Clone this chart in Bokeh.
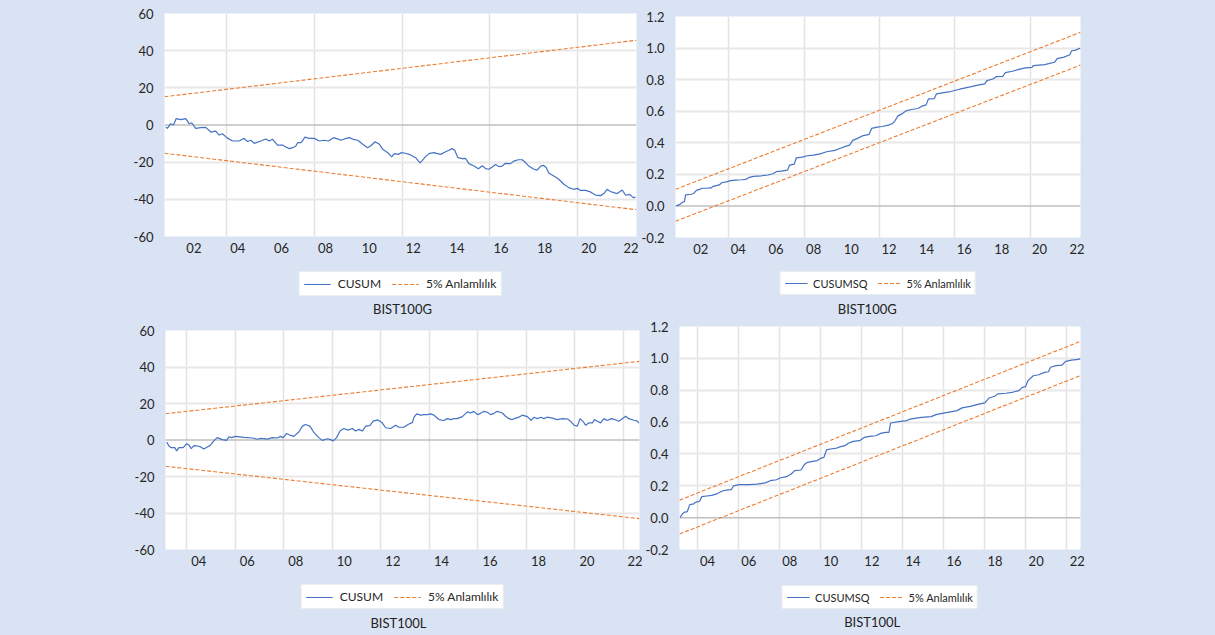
from bokeh.plotting import figure
from bokeh.layouts import column, row
from bokeh.models import (FixedTicker, Span, Legend, LegendItem, Label, Range1d,
                          CustomJSTickFormatter)
from bokeh.embed import file_html
from bokeh.resources import INLINE

# ---------------- data ----------------
# BIST100G CUSUM
g_cusum_t = [2001.22, 2001.29, 2001.44, 2001.57, 2001.69, 2001.90, 2002.13, 2002.28, 2002.40, 2002.58,
             2002.81, 2003.04, 2003.27, 2003.50, 2003.65, 2003.80, 2004.00, 2004.26, 2004.56, 2004.79,
             2004.94, 2005.10, 2005.25, 2005.55, 2005.78, 2005.93, 2006.09, 2006.31, 2006.54, 2006.69,
             2006.85, 2007.00, 2007.15, 2007.23, 2007.38, 2007.45, 2007.56, 2007.76, 2007.99, 2008.22,
             2008.45, 2008.63, 2008.87, 2009.05, 2009.21, 2009.36, 2009.59, 2009.81, 2009.97, 2010.20,
             2010.42, 2010.58, 2010.76, 2010.96, 2011.11, 2011.34, 2011.52, 2011.64, 2011.82, 2011.95,
             2012.15, 2012.38, 2012.61, 2012.81, 2012.92, 2013.07, 2013.22, 2013.44, 2013.60, 2013.75,
             2013.98, 2014.13, 2014.28, 2014.39, 2014.54, 2014.74, 2014.89, 2015.04, 2015.27, 2015.47,
             2015.65, 2015.80, 2015.95, 2016.10, 2016.26, 2016.41, 2016.56, 2016.71, 2016.94, 2017.09,
             2017.29, 2017.47, 2017.62, 2017.77, 2018.00, 2018.15, 2018.31, 2018.43, 2018.56, 2018.68,
             2018.91, 2019.14, 2019.37, 2019.59, 2019.82, 2019.98, 2020.13, 2020.36, 2020.58, 2020.81,
             2021.04, 2021.19, 2021.34, 2021.49, 2021.64, 2021.80, 2022.03, 2022.18, 2022.37, 2022.53,
             2022.63]
g_cusum_v = [-1.1, -1.8, 0.7, 0.0, 3.4, 2.9, 3.4, 0.7, 1.2, -1.8,
             -1.4, -1.3, -3.8, -3.3, -5.4, -4.7, -6.8, -8.6, -8.6, -7.2,
             -8.9, -8.2, -9.9, -8.6, -7.5, -8.6, -7.7, -10.8, -10.8, -11.8,
             -12.7, -12.2, -11.3, -9.5, -9.5, -8.6, -6.5, -7.2, -7.2, -8.6,
             -8.2, -8.6, -6.8, -7.5, -8.2, -7.5, -6.8, -7.9, -8.2, -10.4,
             -12.2, -11.0, -9.0, -10.4, -13.1, -14.9, -17.2, -15.4, -15.8, -14.9,
             -15.2, -16.1, -17.6, -20.4, -19.0, -16.9, -15.4, -14.9, -15.4, -15.8,
             -14.4, -13.6, -12.7, -13.6, -17.6, -18.1, -18.0, -20.8, -22.1, -23.5,
             -21.9, -23.5, -23.8, -22.6, -21.2, -22.4, -22.1, -20.6, -20.8, -19.4,
             -18.7, -18.7, -20.2, -22.1, -23.8, -24.3, -22.1, -21.7, -22.9, -25.8,
             -27.4, -29.2, -31.9, -33.7, -34.6, -34.1, -35.2, -35.2, -36.0, -37.7,
             -38.0, -36.9, -34.6, -35.8, -36.4, -36.9, -35.0, -37.8, -37.3, -39.1,
             -38.8]
g_cusum_bound_t = [2001.16, 2022.68]
g_cusum_upper = [15.2, 45.6]
g_cusum_lower = [-15.2, -45.6]

# BIST100G CUSUMSQ
g_sq_t = [2001.19, 2001.40, 2001.54, 2001.63, 2001.70, 2002.01, 2002.13, 2002.27, 2002.44, 2002.58,
          2002.79, 2003.05, 2003.17, 2003.48, 2003.62, 2003.86, 2004.09, 2004.35, 2004.69, 2004.90,
          2005.04, 2005.30, 2005.73, 2006.08, 2006.34, 2006.51, 2006.77, 2007.12, 2007.22, 2007.47,
          2007.58, 2007.90, 2008.16, 2008.50, 2008.85, 2009.19, 2009.63, 2009.89, 2010.23, 2010.41,
          2010.58, 2010.89, 2011.10, 2011.44, 2011.58, 2011.88, 2012.14, 2012.48, 2012.69, 2012.83,
          2012.97, 2013.18, 2013.44, 2013.70, 2014.04, 2014.25, 2014.48, 2014.60, 2014.91, 2015.03,
          2015.34, 2015.69, 2016.04, 2016.38, 2016.82, 2017.16, 2017.59, 2017.71, 2018.03, 2018.20,
          2018.55, 2018.69, 2019.06, 2019.41, 2019.76, 2020.10, 2020.17, 2020.78, 2020.99, 2021.30,
          2021.44, 2021.80, 2022.11, 2022.21, 2022.42, 2022.68]
g_sq_v = [0.0, 0.010, 0.025, 0.025, 0.070, 0.074, 0.080, 0.099, 0.105, 0.112,
          0.112, 0.114, 0.124, 0.133, 0.147, 0.152, 0.160, 0.164, 0.166, 0.168,
          0.179, 0.187, 0.191, 0.196, 0.204, 0.217, 0.221, 0.227, 0.259, 0.265,
          0.305, 0.309, 0.318, 0.322, 0.330, 0.343, 0.352, 0.364, 0.379, 0.385,
          0.415, 0.431, 0.444, 0.453, 0.491, 0.499, 0.503, 0.512, 0.522, 0.541,
          0.569, 0.583, 0.604, 0.611, 0.617, 0.632, 0.640, 0.678, 0.680, 0.710,
          0.716, 0.722, 0.733, 0.743, 0.754, 0.764, 0.773, 0.794, 0.804, 0.819,
          0.821, 0.845, 0.853, 0.865, 0.874, 0.878, 0.889, 0.895, 0.901, 0.910,
          0.933, 0.943, 0.958, 0.983, 0.987, 1.000]
g_sq_bound_t = [2001.16, 2022.68]
g_sq_upper = [0.105, 1.100]
g_sq_lower = [-0.097, 0.892]

# BIST100L CUSUM
l_cusum_t = [2003.18, 2003.27, 2003.37, 2003.51, 2003.59, 2003.68, 2003.86, 2004.00, 2004.09, 2004.19,
             2004.30, 2004.47, 2004.58, 2004.71, 2004.85, 2004.99, 2005.12, 2005.26, 2005.47, 2005.65,
             2005.74, 2005.84, 2006.02, 2006.36, 2006.71, 2006.91, 2007.05, 2007.33, 2007.53, 2007.74,
             2007.87, 2007.98, 2008.12, 2008.29, 2008.42, 2008.63, 2008.77, 2008.90, 2009.08, 2009.25,
             2009.45, 2009.59, 2009.80, 2009.93, 2010.04, 2010.18, 2010.32, 2010.48, 2010.65, 2010.83,
             2010.96, 2011.10, 2011.24, 2011.38, 2011.55, 2011.69, 2011.88, 2012.06, 2012.20, 2012.41,
             2012.61, 2012.75, 2012.95, 2013.16, 2013.30, 2013.37, 2013.48, 2013.64, 2013.78, 2013.92,
             2014.05, 2014.19, 2014.40, 2014.60, 2014.74, 2014.88, 2015.01, 2015.15, 2015.36, 2015.57,
             2015.70, 2015.84, 2015.98, 2016.11, 2016.25, 2016.39, 2016.53, 2016.66, 2016.80, 2017.01,
             2017.14, 2017.28, 2017.42, 2017.56, 2017.69, 2017.83, 2018.04, 2018.20, 2018.31, 2018.45,
             2018.59, 2018.72, 2018.86, 2019.07, 2019.27, 2019.48, 2019.69, 2019.82, 2019.96, 2020.10,
             2020.21, 2020.35, 2020.44, 2020.58, 2020.72, 2020.81, 2020.92, 2021.06, 2021.19, 2021.33,
             2021.50, 2021.64, 2021.81, 2021.95, 2022.09, 2022.22, 2022.43, 2022.57, 2022.64]
l_cusum_v = [-1.1, -3.3, -4.2, -4.2, -6.0, -4.2, -4.2, -2.0, -2.7, -4.7,
             -3.1, -3.3, -3.8, -4.9, -3.8, -2.7, -0.5, 1.3, 0.2, -0.2,
             1.8, 1.3, 2.0, 1.4, 1.1, 0.4, 0.9, 0.5, 1.3, 1.1,
             2.0, 1.3, 3.6, 2.5, 2.0, 4.5, 7.6, 8.5, 7.6, 4.0,
             1.3, -0.2, 0.7, 0.2, -0.5, 1.3, 4.9, 6.3, 5.4, 6.3,
             4.9, 5.8, 4.9, 7.6, 7.9, 10.3, 11.0, 9.4, 6.7, 6.3,
             8.1, 7.0, 7.0, 8.8, 9.5, 12.5, 14.3, 13.6, 13.9, 13.9,
             14.3, 13.6, 11.2, 10.7, 11.7, 11.2, 11.7, 11.7, 12.8, 15.4,
             14.8, 15.7, 13.9, 14.6, 15.7, 15.2, 13.9, 14.6, 15.7, 14.8,
             13.0, 11.7, 11.2, 12.0, 12.5, 13.6, 12.8, 10.7, 12.5, 11.7,
             12.5, 11.7, 12.5, 12.0, 11.2, 11.7, 11.5, 10.3, 8.1, 7.6,
             11.7, 9.9, 8.1, 9.4, 9.4, 11.2, 10.3, 9.4, 11.7, 10.7,
             11.7, 11.2, 10.3, 11.7, 13.0, 11.7, 10.8, 10.3, 9.2]
l_cusum_bound_t = [2003.13, 2022.66]
l_cusum_upper = [14.4, 43.1]
l_cusum_lower = [-14.4, -43.1]

# BIST100L CUSUMSQ
l_sq_t = [2003.16, 2003.27, 2003.35, 2003.51, 2003.63, 2003.82, 2003.90, 2004.11, 2004.22, 2004.46,
          2004.70, 2004.94, 2005.09, 2005.25, 2005.49, 2005.65, 2005.76, 2006.04, 2006.52, 2006.91,
          2007.31, 2007.55, 2007.86, 2008.02, 2008.34, 2008.57, 2008.74, 2009.05, 2009.21, 2009.37,
          2009.61, 2009.84, 2010.03, 2010.16, 2010.29, 2010.48, 2010.79, 2010.98, 2011.19, 2011.35,
          2011.59, 2011.90, 2012.14, 2012.38, 2012.69, 2012.93, 2013.17, 2013.33, 2013.41, 2013.80,
          2014.20, 2014.36, 2014.91, 2015.39, 2015.62, 2016.18, 2016.65, 2016.89, 2017.29, 2017.76,
          2018.00, 2018.20, 2018.48, 2018.63, 2019.03, 2019.34, 2019.66, 2019.82, 2019.98, 2020.10,
          2020.36, 2020.63, 2020.91, 2021.10, 2021.20, 2021.48, 2021.76, 2021.94, 2022.22, 2022.56,
          2022.66]
l_sq_v = [0.0, 0.023, 0.033, 0.038, 0.082, 0.086, 0.096, 0.103, 0.132, 0.136,
          0.140, 0.149, 0.159, 0.169, 0.174, 0.176, 0.199, 0.207, 0.207, 0.211,
          0.218, 0.232, 0.238, 0.249, 0.257, 0.274, 0.295, 0.299, 0.333, 0.347,
          0.353, 0.358, 0.374, 0.378, 0.425, 0.431, 0.437, 0.446, 0.452, 0.467,
          0.479, 0.483, 0.504, 0.510, 0.514, 0.529, 0.535, 0.535, 0.594, 0.603,
          0.609, 0.619, 0.630, 0.634, 0.647, 0.661, 0.672, 0.689, 0.699, 0.714,
          0.720, 0.751, 0.762, 0.777, 0.781, 0.787, 0.797, 0.818, 0.822, 0.860,
          0.891, 0.897, 0.912, 0.916, 0.944, 0.954, 0.958, 0.981, 0.989, 0.993,
          1.000]
l_sq_bound_t = [2003.13, 2022.66]
l_sq_upper = [0.110, 1.107]
l_sq_lower = [-0.103, 0.892]

# axis ticks / labels
top_xticks = [2002.5, 2004.5, 2006.5, 2008.5, 2010.5, 2012.5, 2014.5, 2016.5, 2018.5, 2020.5, 2022.5]
top_xlabels = ["02", "04", "06", "08", "10", "12", "14", "16", "18", "20", "22"]
top_xgrid = [2004, 2008, 2012, 2016, 2020]
bot_xticks = [2004.5, 2006.5, 2008.5, 2010.5, 2012.5, 2014.5, 2016.5, 2018.5, 2020.5, 2022.5]
bot_xlabels = ["04", "06", "08", "10", "12", "14", "16", "18", "20", "22"]
bot_xgrid = [2004, 2006, 2008, 2010, 2012, 2014, 2016, 2018, 2020, 2022]
cusum_yticks = [-60, -40, -20, 0, 20, 40, 60]
cusum_ylabels = ["-60", "-40", "-20", "0", "20", "40", "60"]
cusum_ygrid = [-40, -20, 20, 40]
sq_yticks = [-0.2, 0.0, 0.2, 0.4, 0.6, 0.8, 1.0, 1.2]
sq_ylabels = ["-0.2", "0.0", "0.2", "0.4", "0.6", "0.8", "1.0", "1.2"]
sq_ygrid = [0.2, 0.4, 0.6, 0.8, 1.0]

# ---------------- styling ----------------
BG = "#DAE3F3"
BLUE = "#4472C4"
ORANGE = "#ED7D31"
FONT = "Lato"
TXT = "#262626"
DASH = "4 2"
BG_STYLE = {"background-color": BG}

FMT_CODE = "const i = vals.indexOf(tick); return i >= 0 ? labels[i] : '';"


def make_plot(t, v, bt, bup, blo, xr, yr, xticks, xlabels, xgrid, yticks, ylabels, ygrid,
              fw, fh, bl, br, btop, bbot):
    p = figure(width=bl + fw + br, height=btop + fh + bbot,
               min_border_left=bl, min_border_right=br,
               min_border_top=btop, min_border_bottom=bbot,
               x_range=Range1d(*xr), y_range=Range1d(*yr),
               output_backend="svg", toolbar_location=None,
               background_fill_color="white", border_fill_color=BG,
               outline_line_color=None, styles=BG_STYLE)

    p.xgrid.ticker = FixedTicker(ticks=xgrid)
    p.ygrid.ticker = FixedTicker(ticks=ygrid)
    p.xgrid.grid_line_color = "#E3E3E3"
    p.xgrid.grid_line_width = 1.5
    p.ygrid.grid_line_color = "#E8E8E8"
    p.ygrid.grid_line_width = 2

    p.add_layout(Span(location=0, dimension="width", line_color="#BFBFBF",
                      line_width=1.5, level="underlay"))

    p.line(bt, bup, line_color=ORANGE, line_width=1.1, line_dash=DASH)
    p.line(bt, blo, line_color=ORANGE, line_width=1.1, line_dash=DASH)
    p.line(t, v, line_color=BLUE, line_width=1.2)

    xa = p.xaxis[0]
    xa.ticker = FixedTicker(ticks=xticks)
    xa.formatter = CustomJSTickFormatter(args=dict(vals=xticks, labels=xlabels), code=FMT_CODE)
    ya = p.yaxis[0]
    ya.ticker = FixedTicker(ticks=yticks)
    ya.formatter = CustomJSTickFormatter(args=dict(vals=yticks, labels=ylabels), code=FMT_CODE)
    for ax in (xa, ya):
        ax.axis_line_color = None
        ax.major_tick_line_color = None
        ax.minor_tick_line_color = None
        ax.major_label_text_font = FONT
        ax.major_label_text_font_size = "13px"
        ax.major_label_text_color = TXT
    xa.major_label_standoff = 0
    ya.major_label_standoff = 5
    return p


def make_legend(series_label, title_text, title_offset, fw, bl, br, h, title_from_top,
                font_size, glyph_w, standoff, spacing, margin):
    f = figure(width=bl + fw + br, height=h,
               min_border_left=bl, min_border_right=br, min_border_top=0, min_border_bottom=0,
               x_range=Range1d(0, fw), y_range=Range1d(0, h),
               x_axis_location=None, y_axis_location=None,
               output_backend="svg", toolbar_location=None,
               background_fill_color=None, border_fill_color=None,
               outline_line_color=None, styles=BG_STYLE)
    f.grid.visible = False
    # legend swatches only: their points lie outside the visible range
    r1 = f.line(x=[-20, -10], y=[-20, -10], line_color=BLUE, line_width=1.2)
    r2 = f.line(x=[-20, -10], y=[-20, -10], line_color=ORANGE, line_width=1.1, line_dash=DASH)
    legend = Legend(items=[LegendItem(label=series_label, renderers=[r1]),
                           LegendItem(label="5% Anlamlılık", renderers=[r2])],
                    orientation="horizontal", location="top_center",
                    background_fill_color="white", background_fill_alpha=1.0,
                    border_line_color="#D9D9D9", border_line_width=1,
                    label_text_font=FONT, label_text_font_size=font_size,
                    label_text_color=TXT,
                    glyph_width=glyph_w, glyph_height=14, label_height=14,
                    label_standoff=standoff, spacing=spacing, padding=4, margin=margin)
    f.add_layout(legend)
    f.add_layout(Label(x=fw / 2 + title_offset, y=h - title_from_top, text=title_text,
                       text_align="center", text_baseline="middle",
                       text_font=FONT, text_font_size="13px", text_color="#222222"))
    return f


# top row (height 318)
p1 = make_plot(g_cusum_t, g_cusum_v, g_cusum_bound_t, g_cusum_upper, g_cusum_lower,
               (2001.16, 2022.68), (-60, 60), top_xticks, top_xlabels, top_xgrid,
               cusum_yticks, cusum_ylabels, cusum_ygrid,
               472, 223, 164, 2, 13, 22)
l1 = make_legend("CUSUM", "BIST100G", 2, 472, 164, 2, 60, 50, "12px", 27, 7, 11, 13)
p2 = make_plot(g_sq_t, g_sq_v, g_sq_bound_t, g_sq_upper, g_sq_lower,
               (2001.16, 2022.68), (-0.2, 1.2), top_xticks, top_xlabels, top_xgrid,
               sq_yticks, sq_ylabels, sq_ygrid,
               415, 221, 27, 135, 16, 22)
l2 = make_legend("CUSUMSQ", "BIST100G", -11, 415, 27, 135, 59, 49, "11px", 23, 6, 10, 12)

# bottom row (height 317)
p3 = make_plot(l_cusum_t, l_cusum_v, l_cusum_bound_t, l_cusum_upper, l_cusum_lower,
               (2003.13, 2022.66), (-60, 60), bot_xticks, bot_xlabels, bot_xgrid,
               cusum_yticks, cusum_ylabels, cusum_ygrid,
               474, 219, 165, 3, 12, 22)
l3 = make_legend("CUSUM", "BIST100L", -4, 474, 165, 3, 64, 51, "12px", 27, 7, 11, 13)
p4 = make_plot(l_sq_t, l_sq_v, l_sq_bound_t, l_sq_upper, l_sq_lower,
               (2003.13, 2022.66), (-0.2, 1.2), bot_xticks, bot_xlabels, bot_xgrid,
               sq_yticks, sq_ylabels, sq_ygrid,
               412, 223, 26, 135, 8, 22)
l4 = make_legend("CUSUMSQ", "BIST100L", -8, 412, 26, 135, 64, 50, "11px", 23, 6, 10, 14)

layout = column(row(column(p1, l1, styles=BG_STYLE), column(p2, l2, styles=BG_STYLE), styles=BG_STYLE),
                row(column(p3, l3, styles=BG_STYLE), column(p4, l4, styles=BG_STYLE), styles=BG_STYLE),
                styles=BG_STYLE)

open("out.html", "w").write(file_html(layout, INLINE))
